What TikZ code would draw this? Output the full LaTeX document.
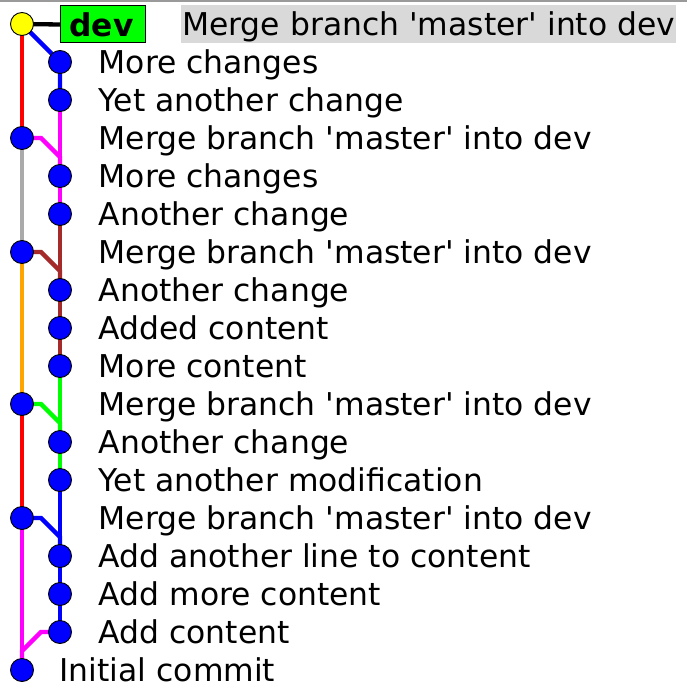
\documentclass[tikz,border=0pt]{standalone}
\usepackage{fontspec}
\setmainfont[Ligatures=TeXOff]{DejaVu Sans}
\usetikzlibrary{backgrounds}
\definecolor{lgray}{HTML}{AAAAAA}
\definecolor{hlgray}{HTML}{D9D9D9}
\definecolor{brownc}{HTML}{A52A2A}
\definecolor{orangec}{HTML}{FFA500}
\definecolor{greenc}{HTML}{00FF00}
\definecolor{magentac}{HTML}{FF00FF}
\definecolor{bluec}{HTML}{0000FF}
\definecolor{redc}{HTML}{FF0000}
\definecolor{yellowc}{HTML}{FFFF00}
\definecolor{bordergray}{HTML}{9A9A9A}
\tikzset{
  commit/.style={circle, draw=black, line width=0.9bp, fill=bluec, minimum size=23bp, inner sep=0pt},
  headcommit/.style={commit, fill=yellowc},
  msg/.style={anchor=base west, inner sep=0pt, font=\fontsize{31.4bp}{36bp}\selectfont},
  edge/.style={line width=4.3bp},
  reflabel/.style={draw=black, line width=1bp, fill=greenc, minimum width=85bp, minimum height=37bp, inner sep=0pt, font=\fontsize{31.4bp}{36bp}\selectfont\bfseries},
}
\begin{document}
\begin{tikzpicture}[x=1bp,y=-1bp]
\useasboundingbox (0,0) rectangle (687,693);
% commits
\node[headcommit] (c0) at (22,24) {};
\node[commit] (c1) at (60,62) {};
\node[commit] (c2) at (60,100) {};
\node[commit] (c3) at (22,138) {};
\node[commit] (c4) at (60,176) {};
\node[commit] (c5) at (60,214) {};
\node[commit] (c6) at (22,252) {};
\node[commit] (c7) at (60,290) {};
\node[commit] (c8) at (60,328) {};
\node[commit] (c9) at (60,366) {};
\node[commit] (c10) at (22,404) {};
\node[commit] (c11) at (60,442) {};
\node[commit] (c12) at (60,480) {};
\node[commit] (c13) at (22,518) {};
\node[commit] (c14) at (60,556) {};
\node[commit] (c15) at (60,594) {};
\node[commit] (c16) at (60,632) {};
\node[commit] (c17) at (22,670) {};
% branch label
\node[reflabel] (dev) at (103,24.5) {\hspace*{-3bp}dev};
% messages
\node[msg] (m0) at (182,35.5) {Merge branch 'master' into dev};
\node[msg] (m1) at (98.5,73.5) {More changes};
\node[msg] (m2) at (98.5,111.5) {Yet another change};
\node[msg] (m3) at (98.5,149.5) {Merge branch 'master' into dev};
\node[msg] (m4) at (98.5,187.5) {More changes};
\node[msg] (m5) at (98.5,225.5) {Another change};
\node[msg] (m6) at (98.5,263.5) {Merge branch 'master' into dev};
\node[msg] (m7) at (98.5,301.5) {Another change};
\node[msg] (m8) at (98.5,339.5) {Added content};
\node[msg] (m9) at (98.5,377.5) {More content};
\node[msg] (m10) at (98.5,415.5) {Merge branch 'master' into dev};
\node[msg] (m11) at (98.5,453.5) {Another change};
\node[msg] (m12) at (98.5,491.5) {Yet another modification};
\node[msg] (m13) at (98.5,529.5) {Merge branch 'master' into dev};
\node[msg] (m14) at (98.5,567.5) {Add another line to content};
\node[msg] (m15) at (98.5,605.5) {Add more content};
\node[msg] (m16) at (98.5,643.5) {Add content};
\node[msg] (m17) at (59.5,681.5) {Initial commit};
% connectors and background
\begin{scope}[on background layer]
\fill[white] (0,0) rectangle (687,693);
\fill[bordergray] (0,0) rectangle (687,1.6);
\fill[hlgray] (181,5) rectangle (676,43);
\draw[edge, black] (c0.center) -- (dev.west);
\draw[edge, bluec] (c0.center) -- (c1.center) -- (c2.center);
\draw[edge, redc] (c0.center) -- (c3.center);
\draw[edge, magentac] (c2.center) -- (c4.center) -- (c5.center);
\draw[edge, magentac] (c3.center) -- +(19,0) -- +(38,19) -- (c4.center);
\draw[edge, lgray] (c3.center) -- (c6.center);
\draw[edge, brownc] (c5.center) -- (c9.center);
\draw[edge, brownc] (c6.center) -- +(19,0) -- +(38,19) -- (c7.center);
\draw[edge, orangec] (c6.center) -- (c10.center);
\draw[edge, greenc] (c9.center) -- (c12.center);
\draw[edge, greenc] (c10.center) -- +(19,0) -- +(38,19) -- (c11.center);
\draw[edge, redc] (c10.center) -- (c13.center);
\draw[edge, bluec] (c12.center) -- (c16.center);
\draw[edge, bluec] (c13.center) -- +(19,0) -- +(38,19) -- (c14.center);
\draw[edge, magentac] (c13.center) -- (c17.center);
\draw[edge, magentac] (c16.center) -- +(-19,0) -- +(-38,19) -- (c17.center);
\end{scope}
\end{tikzpicture}
\end{document}
